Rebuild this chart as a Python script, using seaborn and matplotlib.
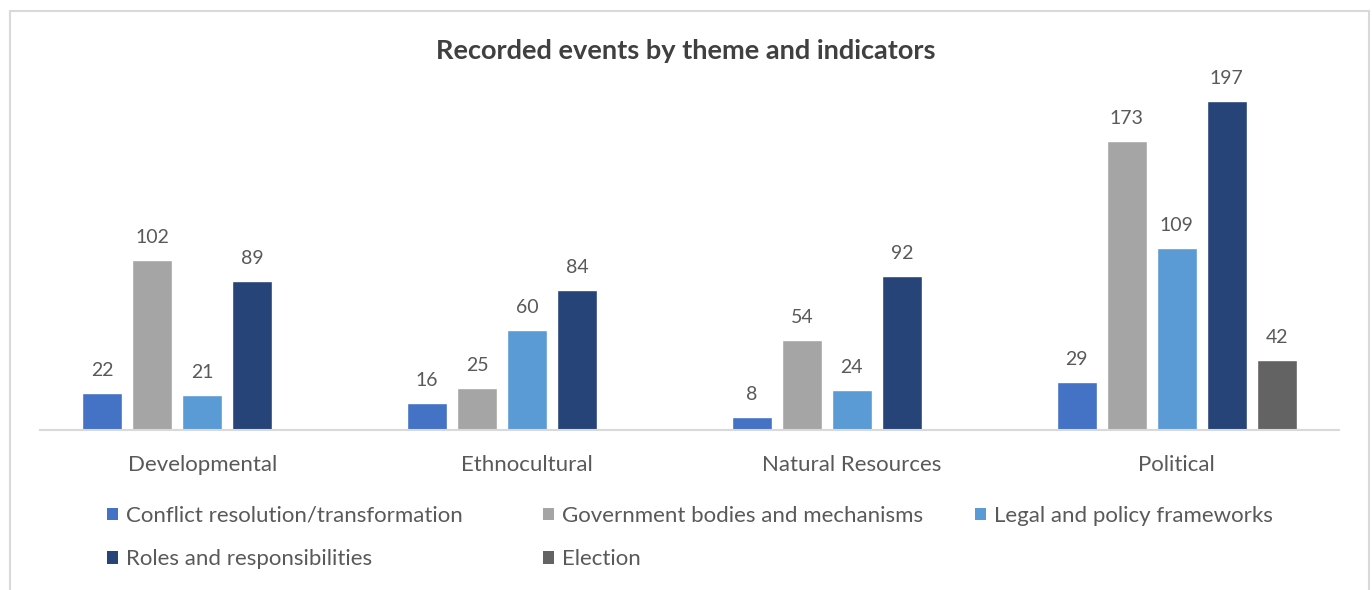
import matplotlib
matplotlib.use("Agg")
import matplotlib.pyplot as plt
import seaborn as sns
import pandas as pd
from matplotlib.patches import Patch, Rectangle

# Recorded events per theme, split by indicator
themes = ["Developmental", "Ethnocultural", "Natural Resources", "Political"]
indicators = [
    "Conflict resolution/transformation",
    "Government bodies and mechanisms",
    "Legal and policy frameworks",
    "Roles and responsibilities",
    "Election",
]
conflict = [22, 16, 8, 29]
government = [102, 25, 54, 173]
legal = [21, 60, 24, 109]
roles = [89, 84, 92, 197]
election = [None, None, None, 42]
colors = ["#4472C4", "#A5A5A5", "#5B9BD5", "#264478", "#636363"]

rows = []
for name, vals in zip(indicators, [conflict, government, legal, roles, election]):
    for theme, v in zip(themes, vals):
        if v is not None:
            rows.append({"theme": theme, "indicator": name, "events": v})
df = pd.DataFrame(rows)

sns.set_style("white")
plt.rcParams["font.family"] = ["Lato", "DejaVu Sans"]
TEXT = "#595959"

W, H = 1372, 590
fig = plt.figure(figsize=(W / 100, H / 100), dpi=100)
fig.patch.set_facecolor("white")

# chart frame
fig.patches.append(Rectangle((10 / W, -0.05), 1359 / W, 1.05 - 11 / H,
                             transform=fig.transFigure, fill=False,
                             edgecolor="#D9D9D9", linewidth=1.5, clip_on=False))

ax = fig.add_axes([40 / W, (H - 430) / H, 1299 / W, 350 / H])
sns.barplot(data=df, x="theme", y="events", hue="indicator", order=themes,
            hue_order=indicators, palette=colors, width=0.77, gap=0.2,
            legend=False, ax=ax, saturation=1)
ax.set_ylim(0, 209.6)
ax.set_xlim(-0.5, 3.5)
for c in ax.containers:
    ax.bar_label(c, padding=10, color=TEXT, fontsize=14)

for s in ["left", "right", "top"]:
    ax.spines[s].set_visible(False)
ax.spines["bottom"].set_color("#D9D9D9")
ax.spines["bottom"].set_linewidth(1.5)
ax.set_yticks([])
ax.set_xlabel("")
ax.set_ylabel("")
ax.tick_params(axis="x", length=0, pad=18, labelsize=16, labelcolor=TEXT)

fig.text(0.5, 1 - 51 / H, "Recorded events by theme and indicators",
         ha="center", va="center", fontsize=19.5, fontweight="bold", color="#404040")

# legend laid out in three fixed-width columns
cols = [([0, 3], 107), ([1, 4], 543), ([2], 975)]
for idxs, xpx in cols:
    handles = [Patch(facecolor=colors[i], edgecolor="none", label=indicators[i]) for i in idxs]
    fig.legend(handles=handles, loc="upper left",
               bbox_to_anchor=(xpx / W, 1 - 506 / H), frameon=False,
               fontsize=16, handlelength=0.5, handleheight=0.5,
               handletextpad=0.35, labelspacing=1.04, borderpad=0,
               borderaxespad=0, labelcolor=TEXT)

fig.savefig("out.png", dpi=100)
